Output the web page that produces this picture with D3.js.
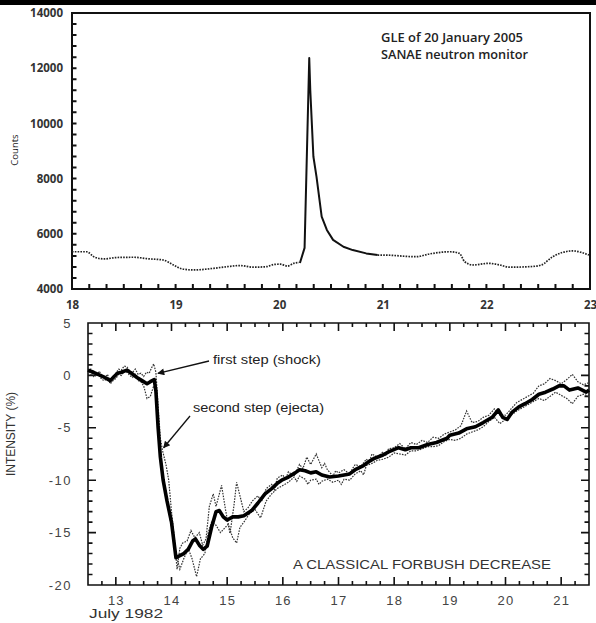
<!DOCTYPE html>
<html>
<head>
<meta charset="utf-8">
<script src="https://cdn.jsdelivr.net/npm/d3@7"></script>
<style>
  body { margin: 0; background: #fff; }
  svg { display: block; }
</style>
</head>
<body>
<svg width="596" height="623"></svg>
<script>
// top panel: GLE 20 Jan 2005, SANAE neutron monitor (day of January, counts)
var gleBefore = [
  [18.0, 5350], [18.14, 5350], [18.22, 5150], [18.31, 5090], [18.43, 5140],
  [18.6, 5150], [18.72, 5100], [18.88, 5050], [18.98, 4870], [19.06, 4730],
  [19.17, 4690], [19.37, 4750], [19.5, 4810], [19.62, 4850], [19.75, 4790],
  [19.88, 4810], [19.95, 4890], [20.01, 4900], [20.08, 4830], [20.14, 4930],
  [20.19, 4960]
];
var gleEvent = [
  [20.2, 4940], [20.245, 5490], [20.29, 12370], [20.3, 11200], [20.33, 8800],
  [20.36, 8070], [20.41, 6620], [20.46, 6140], [20.52, 5780], [20.62, 5530],
  [20.71, 5410], [20.84, 5290], [20.95, 5230]
];
var gleAfter = [
  [20.95, 5230], [21.0, 5230], [21.32, 5170], [21.45, 5270], [21.65, 5350],
  [21.74, 5290], [21.79, 4990], [21.87, 4870], [22.02, 4930], [22.13, 4870],
  [22.22, 4790], [22.42, 4810], [22.53, 4870], [22.64, 5170], [22.83, 5380],
  [22.99, 5230]
];
var gleXTicks = [18, 19, 20, 21, 22, 23];
var gleYTicks = [4000, 6000, 8000, 10000, 12000, 14000];

// bottom panel: Forbush decrease, July 1982 (day, intensity %)
var fdMean = [
  [12.5, 0.5], [12.6, 0.3], [12.72, 0.0], [12.8, -0.2], [12.9, -0.5], [12.97, -0.1],
  [13.03, 0.2], [13.1, 0.3], [13.2, 0.5], [13.28, 0.2], [13.38, -0.2], [13.47, -0.5],
  [13.56, -0.8], [13.62, -0.6], [13.69, -0.4], [13.72, -1.5], [13.76, -5.0], [13.8, -7.8],
  [13.85, -10.0], [13.92, -12.0], [14.0, -14.0], [14.08, -17.4], [14.15, -17.2], [14.22, -17.0],
  [14.3, -16.6], [14.38, -15.8], [14.43, -15.6], [14.5, -16.2], [14.57, -16.6], [14.64, -16.3],
  [14.72, -14.5], [14.8, -13.0], [14.86, -12.9], [14.93, -13.5], [15.0, -13.8], [15.1, -13.5],
  [15.2, -13.5], [15.3, -13.4], [15.44, -12.9], [15.55, -12.2], [15.68, -11.3], [15.8, -10.8],
  [15.9, -10.3], [15.98, -10.0], [16.1, -9.7], [16.22, -9.3], [16.3, -9.0], [16.4, -9.1],
  [16.5, -9.3], [16.6, -9.2], [16.7, -9.5], [16.84, -9.7], [17.0, -9.6], [17.2, -9.4],
  [17.3, -9.0], [17.45, -8.6], [17.55, -8.2], [17.65, -7.9], [17.8, -7.6], [17.9, -7.3],
  [18.08, -6.9], [18.2, -7.1], [18.3, -6.9], [18.44, -6.9], [18.6, -6.6], [18.76, -6.4],
  [18.95, -6.0], [19.0, -5.7], [19.16, -5.5], [19.3, -5.1], [19.46, -4.9], [19.6, -4.5],
  [19.76, -4.0], [19.87, -3.3], [19.95, -4.0], [20.03, -4.2], [20.12, -3.5], [20.24, -3.0],
  [20.35, -2.7], [20.48, -2.3], [20.6, -1.8], [20.72, -1.6], [20.85, -1.3], [20.96, -1.0],
  [21.05, -1.0], [21.15, -1.4], [21.3, -1.2], [21.45, -1.6], [21.5, -1.4]
];
var fdStationA = [
  [12.5, 0.6], [12.55, 0.1], [12.6, 0.2], [12.65, -0.1], [12.7, 0.4], [12.75, 0.0],
  [12.8, -0.3], [12.85, 0.1], [12.9, -0.6], [12.95, -0.2], [13.0, 0.2], [13.05, 0.6],
  [13.1, 0.5], [13.15, 0.9], [13.2, 0.8], [13.25, 0.4], [13.3, 0.3], [13.35, 0.6],
  [13.4, 0.1], [13.45, 0.2], [13.5, -0.1], [13.55, 0.3], [13.6, 0.2], [13.64, 0.7],
  [13.68, 1.1], [13.72, 0.3], [13.76, -3.0], [13.8, -6.0], [13.84, -7.2], [13.9, -8.5],
  [13.95, -10.0], [14.0, -13.0], [14.06, -16.0], [14.1, -18.5], [14.15, -16.5], [14.2, -16.0],
  [14.28, -15.8], [14.35, -14.8], [14.42, -15.5], [14.5, -15.0], [14.56, -16.2], [14.62, -15.6],
  [14.68, -12.5], [14.75, -11.3], [14.8, -12.5], [14.9, -10.5], [14.97, -12.8], [15.05, -15.1],
  [15.12, -12.5], [15.17, -10.2], [15.23, -11.5], [15.3, -13.0], [15.38, -12.6], [15.45, -12.0],
  [15.55, -11.5], [15.62, -12.0], [15.7, -10.8], [15.8, -10.4], [15.85, -10.9], [15.9, -9.8],
  [16.0, -9.5], [16.05, -9.9], [16.1, -9.2], [16.2, -9.6], [16.3, -8.5], [16.36, -8.9],
  [16.43, -7.8], [16.5, -8.5], [16.6, -7.5], [16.7, -8.8], [16.75, -8.4], [16.8, -9.0],
  [16.9, -9.6], [16.95, -9.1], [17.0, -9.3], [17.1, -9.0], [17.2, -9.4], [17.25, -8.9],
  [17.3, -8.5], [17.4, -8.7], [17.5, -8.0], [17.55, -8.3], [17.6, -7.5], [17.7, -7.8],
  [17.8, -7.3], [17.85, -7.6], [17.9, -7.0], [18.0, -6.9], [18.1, -6.5], [18.2, -7.0],
  [18.3, -6.4], [18.4, -6.6], [18.5, -6.2], [18.6, -6.4], [18.7, -5.9], [18.8, -6.0],
  [18.9, -5.6], [19.0, -5.4], [19.1, -5.2], [19.2, -4.8], [19.3, -3.4], [19.4, -4.5],
  [19.5, -4.4], [19.6, -4.0], [19.7, -3.8], [19.8, -3.2], [19.9, -3.8], [20.0, -3.8],
  [20.1, -3.2], [20.2, -2.6], [20.3, -2.3], [20.4, -2.0], [20.5, -1.7], [20.6, -1.0],
  [20.7, -0.8], [20.8, -0.3], [20.9, -0.5], [21.0, -0.8], [21.1, -0.4], [21.2, 0.1],
  [21.3, -0.6], [21.4, -0.9], [21.5, -0.7]
];
var fdStationB = [
  [12.5, 0.3], [12.55, 0.6], [12.6, -0.1], [12.65, 0.2], [12.7, 0.0], [12.75, -0.4],
  [12.8, -0.5], [12.85, -0.2], [12.9, -0.8], [12.95, -0.5], [13.0, -0.3], [13.05, 0.1],
  [13.1, 0.0], [13.15, 0.4], [13.2, 0.3], [13.25, 0.0], [13.3, -0.2], [13.35, 0.1],
  [13.4, -0.5], [13.45, -0.6], [13.5, -1.0], [13.56, -2.2], [13.62, -2.0], [13.68, -1.0],
  [13.72, -1.3], [13.76, -5.5], [13.82, -8.5], [13.88, -11.0], [13.95, -13.0], [14.02, -15.0],
  [14.08, -17.0], [14.15, -18.5], [14.22, -17.5], [14.3, -16.5], [14.37, -17.5], [14.45, -19.2],
  [14.52, -17.5], [14.6, -17.0], [14.66, -15.0], [14.72, -14.0], [14.8, -14.3], [14.88, -15.0],
  [14.95, -14.6], [15.02, -14.2], [15.1, -15.5], [15.17, -16.0], [15.23, -14.5], [15.3, -14.0],
  [15.4, -13.2], [15.5, -12.8], [15.6, -13.6], [15.7, -12.0], [15.8, -11.3], [15.9, -10.8],
  [16.0, -10.5], [16.1, -10.2], [16.2, -9.7], [16.25, -10.1], [16.3, -9.6], [16.4, -9.9],
  [16.45, -10.4], [16.5, -10.0], [16.6, -9.9], [16.65, -10.4], [16.7, -10.1], [16.8, -9.9],
  [16.9, -10.2], [17.0, -10.0], [17.05, -10.4], [17.1, -9.9], [17.2, -10.0], [17.3, -9.4],
  [17.4, -9.1], [17.45, -9.5], [17.5, -8.6], [17.6, -8.4], [17.7, -8.1], [17.8, -8.0],
  [17.9, -7.8], [18.0, -7.4], [18.1, -7.5], [18.2, -7.6], [18.3, -7.2], [18.4, -7.2],
  [18.5, -7.0], [18.6, -6.8], [18.7, -6.8], [18.8, -6.7], [18.9, -6.3], [19.0, -6.1],
  [19.1, -6.2], [19.2, -6.0], [19.3, -5.6], [19.4, -5.4], [19.5, -5.2], [19.6, -4.9],
  [19.7, -4.4], [19.8, -4.0], [19.9, -4.6], [20.0, -4.2], [20.1, -3.8], [20.2, -3.4],
  [20.3, -3.1], [20.4, -2.8], [20.5, -2.5], [20.6, -2.2], [20.7, -2.4], [20.8, -2.0],
  [20.9, -1.6], [21.0, -1.9], [21.1, -2.2], [21.2, -2.7], [21.3, -2.0], [21.4, -1.8],
  [21.5, -2.0]
];
var fdXTicks = [13, 14, 15, 16, 17, 18, 19, 20, 21];
var fdYTicks = [-20, -15, -10, -5, 0, 5];

var svg = d3.select('svg');

// path segments for tick marks pointing into the plot
function tickPath(values, pos, orient, len) {
  return values.map(function(v) {
    var p = pos(v);
    if (orient.x === undefined) return 'M' + p + ',' + orient.y + 'V' + (orient.y + orient.dir * len);
    return 'M' + orient.x + ',' + p + 'H' + (orient.x + orient.dir * len);
  }).join('');
}

// plot border plus its tick marks, drawn as one outline path
function frame(g, x, y, width, tickD) {
  var r = x.range(), s = y.range();
  g.append('path')
    .attr('d', 'M' + r[0] + ',' + s[0] + 'H' + r[1] + 'V' + s[1] + 'H' + r[0] + 'Z' + tickD)
    .attr('fill', 'none').attr('stroke', '#111').attr('stroke-width', width);
}

// black strip along the top edge
svg.append('rect').attr('x', 0).attr('y', 0).attr('width', 596).attr('height', 5).attr('fill', '#000');

// ---------- top panel ----------
var x1 = d3.scaleLinear().domain([18, 23]).range([72, 590]);
var y1 = d3.scaleLinear().domain([4000, 14000]).range([289, 13]);
var gle = svg.append('g');
var topFont = "'Open Sans', sans-serif";

frame(gle, x1, y1, 2,
  tickPath(d3.range(18, 23.01, 1 / 6), x1, { y: 289, dir: -1 }, 5) +
  tickPath(d3.range(4000, 14001, 400), y1, { x: 72, dir: 1 }, 4.5));

gle.append('g')
  .attr('transform', 'translate(0,289)')
  .call(d3.axisBottom(x1).tickValues(gleXTicks).tickSize(0).tickPadding(12).tickFormat(d3.format('d')))
  .call(function(g) {
    g.select('.domain').remove();
    g.selectAll('text').attr('font-family', topFont).attr('font-size', 11.5).attr('font-weight', 700).attr('fill', '#333');
  });
gle.append('g')
  .attr('transform', 'translate(72,0)')
  .call(d3.axisLeft(y1).tickValues(gleYTicks).tickSize(0).tickPadding(9).tickFormat(d3.format('d')))
  .call(function(g) {
    g.select('.domain').remove();
    g.selectAll('text').attr('font-family', topFont).attr('font-size', 11.5).attr('font-weight', 700).attr('fill', '#333');
  });

gle.append('text')
  .attr('transform', 'translate(18,150) rotate(-90)')
  .attr('text-anchor', 'middle')
  .attr('font-family', topFont).attr('font-size', 9.5).attr('fill', '#222')
  .text('Counts');

var line1 = d3.line().x(function(d) { return x1(d[0]); }).y(function(d) { return y1(d[1]); }).curve(d3.curveMonotoneX);

gle.append('path').datum(gleBefore).attr('d', line1)
  .attr('fill', 'none').attr('stroke', '#222').attr('stroke-width', 1.7).attr('stroke-dasharray', '1.6,1.2');
gle.append('path').datum(gleAfter).attr('d', line1)
  .attr('fill', 'none').attr('stroke', '#222').attr('stroke-width', 1.7).attr('stroke-dasharray', '1.6,1.2');
gle.append('path').datum(gleEvent).attr('d', d3.line().x(function(d) { return x1(d[0]); }).y(function(d) { return y1(d[1]); }))
  .attr('fill', 'none').attr('stroke', '#111').attr('stroke-width', 2).attr('stroke-linejoin', 'round');

gle.append('text')
  .attr('x', 381).attr('y', 42)
  .attr('font-family', topFont).attr('font-size', 12.5).attr('font-weight', 600).attr('fill', '#222')
  .attr('textLength', 142).attr('lengthAdjust', 'spacingAndGlyphs')
  .text('GLE of 20 January 2005');
gle.append('text')
  .attr('x', 381).attr('y', 59)
  .attr('font-family', topFont).attr('font-size', 12.5).attr('font-weight', 600).attr('fill', '#222')
  .attr('textLength', 147).attr('lengthAdjust', 'spacingAndGlyphs')
  .text('SANAE neutron monitor');

// ---------- bottom panel ----------
var x2 = d3.scaleLinear().domain([12.5, 21.5]).range([88, 589]);
var y2 = d3.scaleLinear().domain([-20, 5]).range([585, 323]);
var bot = svg.append('g');
var botFont = "'Liberation Sans', Arial, sans-serif";

var minorX = d3.range(12.5, 21.51, 0.25);
var minorY = d3.range(-20, 5.01, 1);

frame(bot, x2, y2, 1.6,
  tickPath(minorX, x2, { y: 585, dir: -1 }, 4) +
  tickPath(fdXTicks, x2, { y: 585, dir: -1 }, 8) +
  tickPath(minorX, x2, { y: 323, dir: 1 }, 4) +
  tickPath(fdXTicks, x2, { y: 323, dir: 1 }, 8) +
  tickPath(minorY, y2, { x: 88, dir: 1 }, 4.5) +
  tickPath(fdYTicks, y2, { x: 88, dir: 1 }, 8) +
  tickPath(minorY, y2, { x: 589, dir: -1 }, 4.5) +
  tickPath(fdYTicks, y2, { x: 589, dir: -1 }, 8));

bot.append('g').attr('transform', 'translate(0,585)')
  .call(d3.axisBottom(x2).tickValues(fdXTicks).tickSize(0).tickPadding(11).tickFormat(d3.format('d')))
  .call(function(g) {
    g.select('.domain').remove();
    g.selectAll('text').attr('font-family', botFont).attr('font-size', 13).attr('fill', '#444')
      .attr('letter-spacing', 1.2);
  });
bot.append('g').attr('transform', 'translate(88,0)')
  .call(d3.axisLeft(y2).tickValues(fdYTicks).tickSize(0).tickPadding(16).tickFormat(function(d) { return String(d); }))
  .call(function(g) {
    g.select('.domain').remove();
    g.selectAll('text').attr('font-family', botFont).attr('font-size', 13).attr('fill', '#444')
      .attr('letter-spacing', 1.5);
  });

var line2 = d3.line().x(function(d) { return x2(d[0]); }).y(function(d) { return y2(d[1]); });

[fdStationA, fdStationB].forEach(function(s) {
  bot.append('path').datum(s).attr('d', line2)
    .attr('fill', 'none').attr('stroke', '#333').attr('stroke-width', 1.2)
    .attr('stroke-dasharray', '1.6,1.2');
});
bot.append('path').datum(fdMean).attr('d', line2)
  .attr('fill', 'none').attr('stroke', '#000').attr('stroke-width', 3.6)
  .attr('stroke-linejoin', 'round');

// labels
bot.append('text')
  .attr('transform', 'translate(15,434) rotate(-90)')
  .attr('text-anchor', 'middle')
  .attr('font-family', botFont).attr('font-size', 12.5).attr('fill', '#333')
  .attr('textLength', 84).attr('lengthAdjust', 'spacingAndGlyphs')
  .text('INTENSITY (%)');
bot.append('text')
  .attr('x', 89).attr('y', 618)
  .attr('font-family', botFont).attr('font-size', 12.5).attr('fill', '#333')
  .attr('textLength', 74).attr('lengthAdjust', 'spacingAndGlyphs')
  .text('July 1982');
bot.append('text')
  .attr('x', 293).attr('y', 569)
  .attr('font-family', botFont).attr('font-size', 12).attr('fill', '#333')
  .attr('textLength', 258).attr('lengthAdjust', 'spacingAndGlyphs')
  .text('A CLASSICAL FORBUSH DECREASE');

// annotation arrows
svg.append('defs').append('marker')
  .attr('id', 'head').attr('viewBox', '0 0 10 10')
  .attr('refX', 9).attr('refY', 5)
  .attr('markerWidth', 9).attr('markerHeight', 7)
  .attr('orient', 'auto').attr('markerUnits', 'userSpaceOnUse')
  .append('path').attr('d', 'M0,0L10,5L0,10z').attr('fill', '#111');

bot.append('text')
  .attr('x', 213).attr('y', 364)
  .attr('font-family', botFont).attr('font-size', 12).attr('fill', '#222')
  .attr('textLength', 108).attr('lengthAdjust', 'spacingAndGlyphs')
  .text('first step (shock)');
bot.append('path')
  .attr('d', 'M209,361L' + (x2(13.72) + 2) + ',' + (y2(0.1) - 1))
  .attr('stroke', '#111').attr('stroke-width', 1.3).attr('fill', 'none')
  .attr('marker-end', 'url(#head)');

bot.append('text')
  .attr('x', 193).attr('y', 412)
  .attr('font-family', botFont).attr('font-size', 12).attr('fill', '#222')
  .attr('textLength', 131).attr('lengthAdjust', 'spacingAndGlyphs')
  .text('second step (ejecta)');
bot.append('path')
  .attr('d', 'M190,416Q180,428 ' + (x2(13.84) + 1) + ',' + (y2(-7.0) - 1))
  .attr('stroke', '#111').attr('stroke-width', 1.3).attr('fill', 'none')
  .attr('marker-end', 'url(#head)');
</script>
</body>
</html>
